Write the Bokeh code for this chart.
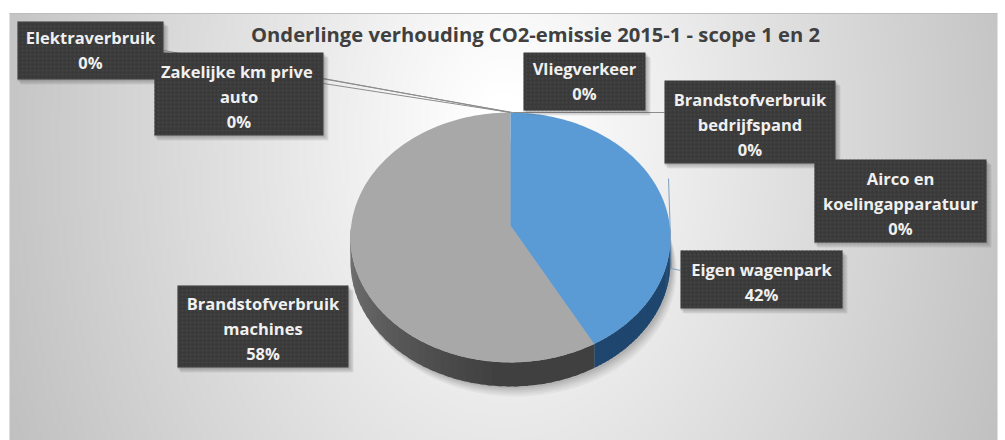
import numpy as np
from bokeh.plotting import figure
from bokeh.embed import file_html
from bokeh.resources import INLINE
from bokeh.models import Range1d
from bokeh.core.properties import value

categories = ["Eigen wagenpark", "Brandstofverbruik machines", "Elektraverbruik",
              "Zakelijke km prive auto", "Vliegverkeer", "Brandstofverbruik bedrijfspand",
              "Airco en koelingapparatuur"]
shares = [42, 58, 0, 0, 0, 0, 0]
title = "Onderlinge verhouding CO2-emissie 2015-1 - scope 1 en 2"
label_lines = [["Eigen wagenpark", "42%"], ["Brandstofverbruik", "machines", "58%"],
               ["Elektraverbruik", "0%"], ["Zakelijke  km prive", "auto", "0%"],
               ["Vliegverkeer", "0%"], ["Brandstofverbruik", "bedrijfspand", "0%"],
               ["Airco en", "koelingapparatuur", "0%"]]

W, H = 1005, 440
p = figure(width=W, height=H, output_backend="svg", toolbar_location=None,
           x_range=Range1d(0, W), y_range=Range1d(H, 0),
           min_border=0, outline_line_color=None)
p.axis.visible = False
p.grid.visible = False
p.background_fill_color = "white"
p.border_fill_color = "white"

# radial backdrop
X0, X1, Y0, Y1 = 9, 997, 13, 440
nx, ny = 247, 107
xx, yy = np.meshgrid(np.linspace(X0, X1, nx), np.linspace(Y0, Y1, ny))
d = np.sqrt(((xx - 505) / 560) ** 2 + ((yy - 130) / 800) ** 2)
g = np.clip(255 - 68 * np.clip(d - 0.05, 0, None), 165, 255).astype(np.uint32)
img = ((255 << 24) | (g << 16) | (g << 8) | g).astype(np.uint32)
p.image_rgba(image=[img], x=[X0], y=[Y0], dw=[X1 - X0], dh=[Y1 - Y0])
p.line([X0, X1], [13, 13], line_color="#bdbdbd", line_width=1)

# pie geometry in perspective
cx, apex = 510, 225
sx, sy, k = 159.3, 123.8, 0.0958
depth = 24


def project(theta):
    u, v = np.sin(theta), np.cos(theta)
    w = 1 + k * v
    return cx + sx * u / w, apex - sy * v / w


# soft shadow
th = np.linspace(0, 2 * np.pi, 180)
sxs, sys = project(th)
for off, dx, a in zip((34, 32, 30, 28, 26), (6, 5, 4, 3, 2), (.07, .08, .1, .12, .14)):
    p.patch(sxs + dx, np.minimum(sys + off, 396), fill_color="#6a6a6a", fill_alpha=a, line_color=None)

ends = np.cumsum(shares) / sum(shares) * 2 * np.pi
starts = np.r_[0, ends[:-1]]
top_colors = ["#5b9bd5", "#a8a8a8"]
side_colors = [((30, 70, 110), (30, 70, 110)), ((120, 120, 120), (64, 64, 64))]

for i in (0, 1):
    a0, a1 = starts[i], ends[i]
    rim_start = max(a0, np.pi / 2)
    rim_end = min(a1, 3 * np.pi / 2)
    edges = np.linspace(rim_start, rim_end, 42)
    step = edges[1] - edges[0]
    for s, e in zip(edges[:-1], edges[1:]):
        t = np.linspace(s, min(e + step * 0.5, rim_end), 4)
        xs, ys = project(t)
        mid = (s + e) / 2
        f = min(1, abs(mid - 3 * np.pi / 2) / 1.5) if i == 1 else 1
        c = side_colors[i]
        col = tuple(int(c[0][j] + (c[1][j] - c[0][j]) * f) for j in range(3))
        hexc = "#%02x%02x%02x" % col
        p.patch(np.r_[xs, xs[::-1]], np.r_[ys, ys[::-1] + depth], fill_color=hexc, line_color=None)

for i in (1, 0):
    t = np.linspace(starts[i], ends[i], 120)
    xs, ys = project(t)
    p.patch(np.r_[cx, xs], np.r_[apex, ys], fill_color=top_colors[i], line_color=None)

# leader lines
p.line([163, 512], [50, 112], line_color="#8c8c8c", line_width=1)
p.line([323, 510], [78, 112], line_color="#8c8c8c", line_width=1)
p.line([323, 510], [83, 112], line_color="#8c8c8c", line_width=1)
p.line([512, 664], [112, 112], line_color="#8c8c8c", line_width=1)
p.line([668, 671, 680], [178, 268, 270], line_color="#7f9fbf", line_width=1)

# data labels: order matches categories
boxes = [(680, 842, 250, 308), (177, 348, 285, 367), (17, 163, 21, 79), (154, 323, 52, 135),
         (523, 645, 52, 110), (664, 835, 80, 163), (814, 986, 159, 242)]
for (l, r, t, b), lines in zip(boxes, label_lines):
    for o, a in ((5, .10), (4, .14), (2, .2)):
        p.quad(left=[l + o - 2], right=[r + o], top=[t + o], bottom=[b + o],
               fill_color="#555555", fill_alpha=a, line_color=None)
    p.quad(left=[l], right=[r], top=[t], bottom=[b], fill_color="#3a3a3a", line_color=None,
           hatch_pattern="dot", hatch_color="#474747", hatch_scale=4, hatch_weight=1)
    xc = (l + r) / 2
    n = len(lines)
    y0 = (t + b) / 2 - (n - 1) * 12.5 + 2 - (3 if n == 2 and t < 100 else 0)
    p.text(x=[xc] * n, y=[y0 + j * 25 for j in range(n)], text=lines,
           text_font=value("Open Sans"), text_font_size="16.5px", text_font_style="bold",
           text_color="#f0f0f0", text_align="center", text_baseline="middle")

p.text(x=[535], y=[33], text=[title], text_font=value("Open Sans"), text_font_size="20.2px",
       text_font_style="bold", text_color="#404040", text_align="center", text_baseline="middle")

open("out.html", "w").write(file_html(p, INLINE))
